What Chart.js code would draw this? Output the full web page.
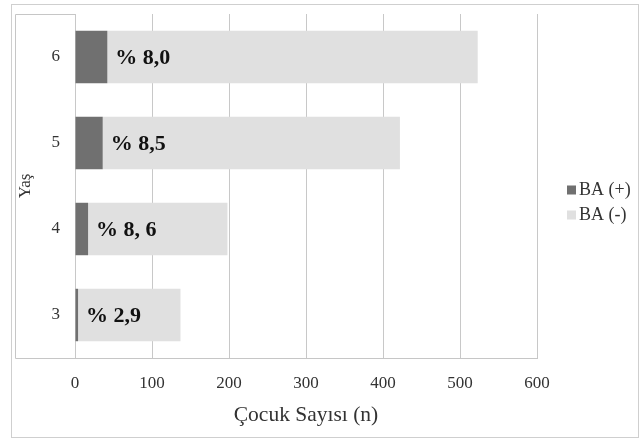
<!DOCTYPE html>
<html>
<head>
<meta charset="utf-8">
<script src="https://cdn.jsdelivr.net/npm/chart.js@4/dist/chart.umd.min.js"></script>
<style>
  html, body { margin: 0; padding: 0; background: #ffffff; }
  canvas { display: block; }
</style>
</head>
<body>
<canvas id="c" width="641" height="438"></canvas>
<script>
// Age groups (years)
const ages = ['3', '4', '5', '6'];
// Number of children with BA (+) and BA (-) per age group
const baPositive = [4, 17, 36, 42];
const baNegative = [133, 181, 386, 481];
// Share of BA (+) in each age group, as printed on the bars
const shareLabels = ['% 2,9', '% 8, 6', '% 8,5', '% 8,0'];
// Value axis ticks
const xTicks = [0, 100, 200, 300, 400, 500, 600];
const seriesNames = ['BA (+)', 'BA (-)'];
const seriesColors = ['#707070', '#e0e0e0'];

const SERIF = "'Liberation Serif', 'Times New Roman', serif";

// Frame around the whole figure and the box around the category axis
const framePlugin = {
  id: 'frame',
  beforeDraw(chart) {
    const ctx = chart.ctx;
    const a = chart.chartArea;
    ctx.save();
    ctx.fillStyle = '#ffffff';
    ctx.fillRect(0, 0, chart.width, chart.height);
    ctx.strokeStyle = '#cfcfcf';
    ctx.lineWidth = 1;
    ctx.strokeRect(11.5, 4.5, chart.width - 14, chart.height - 5);
    ctx.strokeStyle = '#c6c6c6';
    ctx.beginPath();
    ctx.moveTo(a.left, Math.round(a.top) + 0.5);
    ctx.lineTo(15.5, Math.round(a.top) + 0.5);
    ctx.lineTo(15.5, Math.round(a.bottom) + 0.5);
    ctx.lineTo(a.right, Math.round(a.bottom) + 0.5);
    ctx.stroke();
    ctx.restore();
  }
};

// Percentage labels placed just after the BA (+) segment
const shareLabelPlugin = {
  id: 'shareLabels',
  afterDatasetsDraw(chart) {
    const ctx = chart.ctx;
    const meta = chart.getDatasetMeta(0);
    ctx.save();
    ctx.font = "bold 22px " + SERIF;
    ctx.fillStyle = '#111111';
    ctx.textAlign = 'left';
    ctx.textBaseline = 'middle';
    meta.data.forEach((bar, i) => {
      ctx.fillText(shareLabels[i], bar.x + 8, bar.y + 1);
    });
    ctx.restore();
  }
};

// Legend on the right side
const sideLegendPlugin = {
  id: 'sideLegend',
  afterDraw(chart) {
    const ctx = chart.ctx;
    const a = chart.chartArea;
    const x = a.right + 30;
    const yMid = (a.top + a.bottom) / 2 + 17;
    ctx.save();
    ctx.font = "18px " + SERIF;
    ctx.textBaseline = 'middle';
    ctx.textAlign = 'left';
    chart.data.datasets.forEach((ds, i) => {
      const y = yMid + (i - 0.5) * 25;
      ctx.fillStyle = ds.backgroundColor;
      ctx.fillRect(x, y - 5, 9, 9);
      ctx.fillStyle = '#333333';
      ctx.fillText(ds.label, x + 12, y);
    });
    ctx.restore();
  }
};

new Chart(document.getElementById('c'), {
  type: 'bar',
  data: {
    labels: ages,
    datasets: [
      { label: seriesNames[0], data: baPositive, backgroundColor: seriesColors[0] },
      { label: seriesNames[1], data: baNegative, backgroundColor: seriesColors[1] }
    ]
  },
  options: {
    indexAxis: 'y',
    responsive: false,
    animation: false,
    devicePixelRatio: 1,
    layout: { padding: { top: 14, right: 104, bottom: 0, left: 0 } },
    datasets: { bar: { categoryPercentage: 0.61, barPercentage: 1 } },
    plugins: {
      legend: { display: false },
      tooltip: { enabled: false }
    },
    scales: {
      x: {
        stacked: true,
        min: 0,
        max: 600,
        afterBuildTicks(scale) { scale.ticks = xTicks.map(v => ({ value: v })); },
        afterFit(scale) {
          scale.height = 80;
          scale.paddingLeft = 0;
          scale.paddingRight = 0;
        },
        grid: { color: '#c8c8c8', drawTicks: false },
        border: { display: true, color: '#c6c6c6' },
        ticks: {
          padding: 15,
          color: '#333333',
          font: { family: SERIF, size: 17 }
        },
        title: {
          display: true,
          text: 'Çocuk Sayısı (n)',
          color: '#333333',
          font: { family: SERIF, size: 21.5 },
          padding: { top: 0, bottom: 10 }
        }
      },
      y: {
        stacked: true,
        reverse: true,
        afterFit(scale) {
          scale.width = 75;
          scale.paddingTop = 0;
          scale.paddingBottom = 0;
        },
        grid: { display: false, drawTicks: false },
        border: { display: false },
        ticks: {
          padding: 15,
          color: '#333333',
          font: { family: SERIF, size: 17 }
        },
        title: {
          display: true,
          text: 'Yaş',
          color: '#333333',
          font: { family: SERIF, size: 17 },
          padding: { top: 15, bottom: 0 }
        }
      }
    }
  },
  plugins: [framePlugin, shareLabelPlugin, sideLegendPlugin]
});
</script>
</body>
</html>
